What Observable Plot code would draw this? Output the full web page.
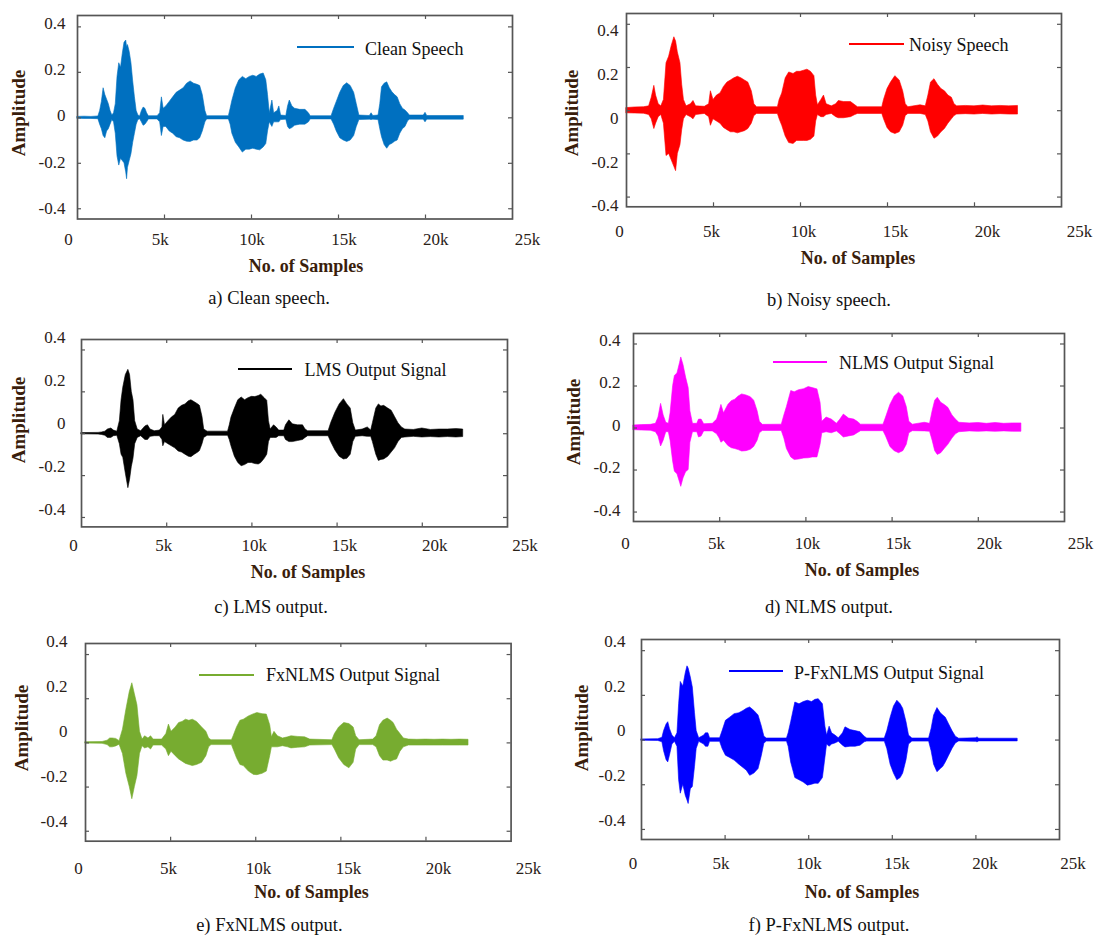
<!DOCTYPE html>
<html><head><meta charset="utf-8">
<script src="https://cdn.jsdelivr.net/npm/d3@7"></script>
<script src="https://cdn.jsdelivr.net/npm/@observablehq/plot@0.6"></script>
<style>
body{margin:0;background:#fff;}
#page{position:relative;width:1094px;height:935px;overflow:hidden;background:#fff;font-family:"Liberation Serif","Times New Roman",serif;}
.t{position:absolute;white-space:nowrap;line-height:1;font-family:"Liberation Serif","Times New Roman",serif;}
.ttl{font-size:18px;font-weight:bold;color:#3a1e0c;}
.amp{font-size:19px;font-weight:bold;color:#3a1e0c;}
.cap{font-size:18.5px;color:#111;}
.leg{font-size:18px;color:#111;}
svg text{font-family:"Liberation Serif","Times New Roman",serif !important;}
</style></head><body><div id="page"></div>
<script>
// x in thousands of samples, envelope [samplesK, upper, lower]
const xTicks=[0,5,10,15,20,25];
const yTicks=[-0.4,-0.2,0,0.2,0.4];

const cleanSpeech=[[0,.004,-.004],[0.4,.005,-.005],[0.8,.004,-.005],[1.2,.006,-.006],[1.3,.03,-.03],[1.4,.07,-.05],[1.5,.13,-.08],[1.6,.10,-.09],[1.7,.08,-.06],[1.8,.06,-.05],[1.9,.03,-.03],[2.0,.01,-.01],[2.1,.02,-.02],[2.2,.06,-.07],[2.3,.18,-.17],[2.4,.24,-.21],[2.5,.22,-.18],[2.6,.28,-.19],[2.7,.33,-.20],[2.8,.34,-.24],[2.85,.31,-.27],[2.9,.32,-.22],[3.0,.29,-.19],[3.1,.24,-.16],[3.2,.16,-.11],[3.3,.09,-.07],[3.4,.03,-.03],[3.5,.01,-.01],[3.6,.006,-.006],[3.7,.03,-.02],[3.8,.045,-.035],[3.9,.04,-.03],[4.0,.02,-.02],[4.1,.007,-.007],[4.6,.007,-.007],[4.75,.02,-.02],[4.85,.09,-.08],[4.95,.04,-.04],[5.1,.05,-.04],[5.3,.07,-.06],[5.5,.09,-.07],[5.7,.11,-.085],[5.9,.12,-.09],[6.1,.13,-.10],[6.3,.15,-.105],[6.5,.16,-.106],[6.7,.15,-.10],[6.9,.145,-.10],[7.05,.14,-.09],[7.2,.10,-.06],[7.35,.03,-.02],[7.45,.007,-.007],[8.7,.007,-.007],[8.8,.04,-.03],[8.9,.075,-.07],[9.1,.13,-.11],[9.3,.165,-.13],[9.5,.18,-.153],[9.7,.17,-.14],[9.9,.18,-.14],[10.1,.185,-.136],[10.3,.18,-.14],[10.5,.19,-.143],[10.7,.195,-.13],[10.85,.165,-.115],[10.95,.10,-.06],[11.05,.02,-.02],[11.2,.076,-.04],[11.3,.02,-.02],[11.5,.03,-.02],[11.6,.05,-.02],[11.7,.01,-.01],[12.0,.008,-.008],[12.1,.05,-.04],[12.2,.076,-.05],[12.35,.05,-.045],[12.5,.04,-.035],[12.8,.035,-.03],[13.1,.035,-.03],[13.3,.02,-.02],[13.4,.007,-.007],[14.6,.007,-.007],[14.75,.04,-.03],[14.9,.07,-.06],[15.1,.11,-.09],[15.3,.14,-.10],[15.5,.152,-.106],[15.7,.14,-.10],[15.9,.11,-.08],[16.05,.06,-.04],[16.2,.01,-.01],[16.8,.008,-.008],[16.9,.02,-.01],[17.0,.008,-.008],[17.3,.01,-.01],[17.4,.06,-.05],[17.5,.134,-.085],[17.65,.15,-.12],[17.8,.156,-.136],[17.95,.13,-.12],[18.1,.112,-.114],[18.25,.10,-.105],[18.4,.09,-.10],[18.55,.06,-.07],[18.7,.04,-.05],[18.85,.032,-.04],[19.0,.02,-.015],[19.1,.01,-.008],[19.9,.01,-.008],[20.0,.022,-.02],[20.1,.008,-.008],[22.2,.008,-.008]];

const noisySpeech=[[0,.012,-.012],[0.5,.015,-.013],[1.0,.016,-.014],[1.3,.02,-.02],[1.45,.06,-.04],[1.6,.115,-.085],[1.7,.07,-.06],[1.85,.03,-.03],[2.0,.02,-.02],[2.15,.05,-.06],[2.3,.22,-.21],[2.45,.25,-.20],[2.6,.30,-.23],[2.75,.34,-.26],[2.85,.32,-.28],[2.95,.27,-.20],[3.1,.22,-.16],[3.2,.12,-.09],[3.3,.05,-.04],[3.45,.02,-.02],[3.7,.03,-.03],[3.85,.045,-.04],[4.0,.02,-.02],[4.5,.018,-.015],[4.75,.03,-.03],[4.85,.09,-.07],[5.0,.05,-.04],[5.2,.07,-.05],[5.4,.08,-.06],[5.6,.11,-.08],[5.8,.13,-.09],[6.0,.14,-.10],[6.2,.15,-.10],[6.4,.157,-.105],[6.6,.15,-.10],[6.8,.14,-.095],[7.0,.13,-.085],[7.2,.09,-.06],[7.35,.03,-.025],[7.5,.016,-.015],[8.7,.016,-.015],[8.8,.05,-.04],[8.95,.08,-.07],[9.15,.15,-.12],[9.35,.177,-.15],[9.6,.17,-.154],[9.8,.18,-.14],[10.0,.18,-.14],[10.2,.185,-.14],[10.4,.19,-.14],[10.6,.18,-.135],[10.8,.16,-.12],[10.9,.07,-.05],[11.0,.025,-.02],[11.2,.05,-.03],[11.35,.07,-.03],[11.5,.03,-.02],[11.8,.02,-.015],[12.05,.03,-.03],[12.2,.045,-.035],[12.5,.04,-.035],[12.9,.04,-.03],[13.15,.025,-.02],[13.3,.016,-.015],[14.7,.016,-.015],[14.8,.05,-.04],[15.0,.10,-.08],[15.2,.13,-.10],[15.45,.16,-.108],[15.7,.14,-.10],[15.9,.09,-.07],[16.05,.03,-.025],[16.2,.016,-.015],[16.9,.025,-.015],[17.2,.02,-.02],[17.35,.07,-.05],[17.5,.13,-.10],[17.7,.146,-.13],[17.9,.12,-.12],[18.1,.10,-.10],[18.3,.09,-.085],[18.5,.07,-.06],[18.7,.06,-.04],[18.85,.03,-.025],[19.0,.02,-.018],[19.5,.022,-.016],[20.0,.02,-.018],[20.5,.024,-.015],[21.0,.02,-.018],[21.5,.022,-.016],[22.0,.02,-.018],[22.5,.022,-.018]];

const lmsOutput=[[0,.003,-.003],[1.0,.004,-.004],[1.2,.006,-.006],[1.4,.01,-.01],[1.55,.02,-.02],[1.75,.025,-.02],[1.9,.015,-.012],[2.1,.01,-.01],[2.25,.06,-.05],[2.35,.16,-.10],[2.45,.22,-.115],[2.6,.28,-.19],[2.75,.305,-.26],[2.85,.28,-.22],[2.95,.20,-.16],[3.05,.16,-.12],[3.15,.06,-.05],[3.3,.02,-.02],[3.5,.012,-.012],[3.75,.035,-.03],[3.9,.04,-.03],[4.05,.02,-.015],[4.3,.012,-.012],[4.6,.015,-.012],[4.75,.03,-.03],[4.8,.09,-.06],[4.9,.04,-.04],[5.1,.06,-.05],[5.3,.077,-.06],[5.5,.09,-.07],[5.7,.12,-.085],[5.9,.133,-.09],[6.1,.14,-.10],[6.3,.155,-.11],[6.45,.16,-.112],[6.65,.15,-.10],[6.85,.14,-.09],[6.95,.133,-.083],[7.1,.08,-.05],[7.2,.02,-.02],[7.4,.01,-.01],[8.6,.01,-.01],[8.7,.04,-.03],[8.8,.077,-.06],[9.0,.12,-.11],[9.2,.16,-.14],[9.4,.173,-.155],[9.6,.16,-.15],[9.8,.17,-.14],[10.0,.176,-.14],[10.2,.175,-.145],[10.4,.18,-.147],[10.55,.186,-.14],[10.75,.17,-.12],[10.9,.157,-.10],[11.0,.06,-.04],[11.1,.02,-.02],[11.3,.04,-.02],[11.45,.03,-.02],[11.6,.015,-.012],[11.9,.015,-.012],[12.0,.04,-.03],[12.2,.064,-.04],[12.4,.045,-.04],[12.7,.04,-.035],[13.0,.04,-.03],[13.15,.02,-.02],[13.3,.012,-.012],[14.5,.012,-.012],[14.65,.05,-.04],[14.9,.10,-.08],[15.15,.14,-.11],[15.4,.165,-.123],[15.6,.14,-.12],[15.8,.12,-.10],[15.95,.05,-.04],[16.1,.015,-.015],[16.5,.02,-.012],[16.8,.03,-.015],[17.0,.015,-.015],[17.1,.05,-.04],[17.3,.12,-.10],[17.45,.14,-.13],[17.6,.13,-.125],[17.76,.133,-.123],[18.0,.12,-.11],[18.2,.11,-.09],[18.4,.08,-.07],[18.6,.05,-.04],[18.8,.03,-.02],[19.0,.02,-.018],[19.5,.018,-.015],[20.0,.025,-.018],[20.5,.018,-.016],[21.0,.02,-.018],[21.5,.02,-.016],[22.0,.022,-.018],[22.4,.02,-.016]];

const nlmsOutput=[[0,.012,-.01],[0.5,.014,-.012],[1.0,.015,-.013],[1.3,.02,-.02],[1.45,.05,-.04],[1.6,.115,-.088],[1.75,.06,-.06],[1.9,.025,-.02],[2.05,.02,-.02],[2.15,.07,-.06],[2.3,.20,-.16],[2.4,.248,-.208],[2.55,.26,-.22],[2.7,.31,-.26],[2.77,.336,-.28],[2.9,.30,-.24],[3.05,.24,-.21],[3.2,.19,-.20],[3.3,.08,-.07],[3.45,.02,-.02],[3.7,.02,-.02],[3.8,.04,-.045],[3.95,.04,-.04],[4.1,.018,-.016],[4.6,.02,-.016],[4.85,.04,-.03],[5.0,.08,-.05],[5.1,.11,-.07],[5.25,.07,-.06],[5.5,.11,-.085],[5.7,.128,-.096],[5.9,.135,-.10],[6.1,.15,-.105],[6.3,.16,-.112],[6.55,.155,-.11],[6.8,.147,-.104],[7.0,.13,-.09],[7.2,.08,-.06],[7.33,.03,-.025],[7.5,.015,-.014],[8.6,.016,-.014],[8.75,.06,-.05],[8.9,.10,-.10],[9.15,.176,-.14],[9.35,.17,-.152],[9.6,.18,-.15],[9.9,.185,-.145],[10.16,.195,-.144],[10.4,.19,-.14],[10.67,.184,-.14],[10.85,.12,-.08],[10.95,.03,-.025],[11.2,.05,-.02],[11.5,.04,-.025],[11.8,.02,-.016],[12.0,.04,-.03],[12.2,.064,-.045],[12.5,.045,-.04],[12.8,.04,-.035],[13.0,.03,-.025],[13.2,.016,-.015],[14.5,.016,-.015],[14.65,.05,-.04],[14.9,.11,-.09],[15.15,.15,-.11],[15.4,.168,-.12],[15.65,.15,-.11],[15.85,.10,-.08],[16.0,.03,-.025],[16.2,.016,-.015],[16.9,.025,-.016],[17.2,.02,-.018],[17.35,.08,-.06],[17.5,.13,-.11],[17.65,.144,-.128],[17.85,.12,-.12],[18.05,.11,-.10],[18.26,.096,-.08],[18.5,.06,-.05],[18.7,.04,-.03],[18.9,.025,-.02],[19.5,.022,-.016],[20.0,.024,-.018],[20.5,.02,-.016],[21.0,.024,-.018],[21.5,.02,-.016],[22.0,.022,-.018],[22.5,.022,-.018]];

const fxnlmsOutput=[[0,.003,-.003],[1.0,.004,-.004],[1.3,.01,-.01],[1.45,.02,-.02],[1.6,.02,-.02],[1.8,.018,-.016],[2.0,.008,-.008],[2.2,.06,-.05],[2.4,.15,-.14],[2.6,.23,-.20],[2.75,.27,-.255],[2.9,.22,-.20],[3.05,.17,-.15],[3.2,.05,-.05],[3.35,.015,-.015],[3.5,.03,-.025],[3.7,.02,-.02],[3.85,.03,-.03],[4.0,.015,-.012],[4.5,.015,-.012],[4.75,.04,-.03],[4.9,.083,-.06],[5.05,.05,-.04],[5.3,.07,-.06],[5.5,.09,-.075],[5.7,.095,-.085],[5.9,.105,-.095],[6.1,.10,-.10],[6.3,.105,-.105],[6.55,.095,-.10],[6.85,.07,-.09],[7.1,.05,-.06],[7.26,.02,-.02],[7.4,.012,-.01],[8.6,.012,-.01],[8.7,.03,-.03],[8.9,.07,-.07],[9.1,.10,-.10],[9.3,.105,-.105],[9.6,.12,-.13],[9.9,.13,-.145],[10.1,.135,-.146],[10.4,.13,-.14],[10.65,.128,-.13],[10.85,.08,-.06],[10.95,.025,-.02],[11.1,.05,-.02],[11.3,.03,-.02],[11.6,.02,-.015],[11.9,.025,-.02],[12.1,.03,-.025],[12.5,.027,-.022],[12.9,.025,-.02],[13.2,.015,-.012],[14.5,.012,-.01],[14.65,.04,-.03],[14.9,.07,-.07],[15.2,.09,-.10],[15.5,.085,-.115],[15.75,.07,-.09],[15.9,.03,-.03],[16.1,.012,-.01],[16.9,.015,-.01],[17.1,.03,-.02],[17.3,.08,-.06],[17.5,.10,-.08],[17.75,.11,-.08],[17.95,.10,-.085],[18.1,.09,-.08],[18.3,.06,-.075],[18.5,.04,-.04],[18.7,.02,-.02],[19.0,.015,-.012],[19.5,.014,-.012],[20.0,.015,-.012],[20.5,.014,-.012],[21.0,.015,-.012],[21.5,.014,-.012],[22.0,.015,-.012],[22.5,.014,-.012]];

const pfxnlmsOutput=[[0,.003,-.003],[1.0,.004,-.004],[1.25,.01,-.01],[1.35,.04,-.05],[1.5,.07,-.09],[1.6,.08,-.10],[1.7,.05,-.07],[1.85,.02,-.02],[2.0,.008,-.008],[2.15,.03,-.03],[2.25,.16,-.18],[2.35,.26,-.24],[2.5,.24,-.20],[2.65,.30,-.25],[2.75,.33,-.27],[2.82,.32,-.286],[2.95,.28,-.22],[3.07,.235,-.21],[3.2,.12,-.12],[3.3,.04,-.04],[3.45,.008,-.008],[3.75,.02,-.02],[3.85,.03,-.03],[4.0,.03,-.03],[4.1,.008,-.008],[4.7,.008,-.008],[4.85,.04,-.04],[5.05,.086,-.07],[5.3,.10,-.08],[5.57,.116,-.092],[5.85,.12,-.11],[6.1,.13,-.125],[6.3,.14,-.137],[6.5,.146,-.16],[6.75,.13,-.15],[7.0,.11,-.13],[7.2,.06,-.07],[7.35,.015,-.015],[7.5,.007,-.007],[8.7,.007,-.007],[8.8,.03,-.03],[8.95,.08,-.10],[9.2,.168,-.17],[9.45,.16,-.18],[9.7,.17,-.19],[9.95,.176,-.204],[10.2,.17,-.20],[10.4,.18,-.195],[10.6,.183,-.196],[10.85,.16,-.17],[11.0,.06,-.08],[11.1,.02,-.02],[11.25,.06,-.03],[11.4,.03,-.02],[11.6,.02,-.015],[11.8,.008,-.008],[12.05,.03,-.025],[12.2,.057,-.033],[12.5,.045,-.03],[12.8,.04,-.03],[13.1,.035,-.025],[13.35,.015,-.01],[13.5,.007,-.007],[14.55,.007,-.007],[14.7,.04,-.04],[14.9,.10,-.11],[15.1,.15,-.15],[15.3,.176,-.18],[15.5,.16,-.17],[15.65,.14,-.15],[15.85,.08,-.09],[16.0,.02,-.02],[16.2,.007,-.007],[17.2,.007,-.007],[17.35,.05,-.05],[17.5,.11,-.11],[17.7,.143,-.144],[17.9,.12,-.13],[18.05,.11,-.12],[18.2,.10,-.10],[18.4,.07,-.07],[18.6,.04,-.04],[18.8,.015,-.015],[19.0,.006,-.006],[20.0,.008,-.008],[20.1,.012,-.01],[20.2,.006,-.006],[22.5,.006,-.006]];

const panels=[
 {data:cleanSpeech,color:"#0070c0",legend:"Clean Speech",caption:"a) Clean speech.",
  frame:{L:77,R:512,T:14.5,B:218},xLab:{x0:68,x25:527,y:238.5},yLab:{right:65,top:23,bottom:208},
  amp:{x:18,y:113},xTitle:{x:306,y:266},cap:{x:269,y:298},leg:{x1:297,x2:354,y:47,tx:365,ty:49}},
 {data:noisySpeech,color:"#ff0000",legend:"Noisy Speech",caption:"b) Noisy speech.",
  frame:{L:626,R:1061,T:12.7,B:206},xLab:{x0:619,x25:1079,y:230.5},yLab:{right:618,top:30.5,bottom:205.5},
  amp:{x:571,y:113},xTitle:{x:858,y:258},cap:{x:829,y:300},leg:{x1:849,x2:904,y:43.5,tx:909,ty:44.5}},
 {data:lmsOutput,color:"#000000",legend:"LMS Output Signal",caption:"c) LMS output.",
  frame:{L:81,R:507,T:339.3,B:526.7},xLab:{x0:73,x25:524.6,y:545},yLab:{right:65,top:337.4,bottom:508.6},
  amp:{x:18,y:420},xTitle:{x:308,y:571.5},cap:{x:271,y:606.5},leg:{x1:238,x2:292,y:369.3,tx:304.5,ty:370}},
 {data:nlmsOutput,color:"#ff00ff",legend:"NLMS Output Signal",caption:"d) NLMS output.",
  frame:{L:633,R:1064,T:332.7,B:520.7},xLab:{x0:625,x25:1080,y:543},yLab:{right:620,top:339.6,bottom:510},
  amp:{x:573,y:422},xTitle:{x:862,y:570},cap:{x:829,y:607},leg:{x1:773,x2:827,y:361.7,tx:839,ty:363.3}},
 {data:fxnlmsOutput,color:"#77ac30",legend:"FxNLMS Output Signal",caption:"e) FxNLMS output.",
  frame:{L:85,R:510.6,T:643.3,B:841},xLab:{x0:78,x25:528,y:868},yLab:{right:66.7,top:641.3,bottom:821.5},
  amp:{x:21,y:728},xTitle:{x:311.6,y:891.7},cap:{x:269.4,y:925},leg:{x1:199,x2:253.5,y:675,tx:266,ty:675}},
 {data:pfxnlmsOutput,color:"#0000ff",legend:"P-FxNLMS Output Signal",caption:"f) P-FxNLMS output.",
  frame:{L:641,R:1059,T:639.3,B:839.3},xLab:{x0:632.6,x25:1072.6,y:863},yLab:{right:625,top:640.6,bottom:820.4},
  amp:{x:580.7,y:727.5},xTitle:{x:862,y:891.7},cap:{x:829,y:925},leg:{x1:729.4,x2:783.4,y:670.7,tx:794,ty:673.3}}
];

const page=document.getElementById("page");
const frameColor="#555555";
const tickColor="#2a2118";
const serif="Liberation Serif";
const fmtX=d=>d===0?"0":d+"k";
const fmtY=d=>d===0?"0":d.toFixed(1);
const yDomain=[-0.445,0.45];

function place(el,left,top){el.style.position="absolute";el.style.left=left+"px";el.style.top=top+"px";el.style.maxWidth="none";page.appendChild(el);}
function addText(cls,txt,x,y,tf){const d=document.createElement("div");d.className="t "+cls;d.textContent=txt;d.style.left=x+"px";d.style.top=y+"px";d.style.transform=tf;page.appendChild(d);return d;}

for(const p of panels){
  const {L,R,T,B}=p.frame, W=R-L, H=B-T, pad=4;
  const main=Plot.plot({
    width:W+2*pad,height:H+2*pad,margin:pad,
    x:{domain:[0,25],axis:null},y:{domain:yDomain,axis:null},
    style:{background:"transparent",overflow:"visible"},
    marks:[
      Plot.areaY(p.data,{x:d=>d[0],y1:d=>d[2],y2:d=>d[1],fill:p.color,stroke:p.color,strokeWidth:0.6,curve:"linear"}),
      Plot.ruleX(xTicks.slice(1,-1),{x:d=>d,insetTop:H-4,stroke:frameColor,strokeWidth:1.2}),
      Plot.ruleX(xTicks.slice(1,-1),{x:d=>d,insetBottom:H-4,stroke:frameColor,strokeWidth:1.2}),
      Plot.ruleY(yTicks,{y:d=>d,insetRight:W-4,stroke:frameColor,strokeWidth:1.2}),
      Plot.ruleY(yTicks,{y:d=>d,insetLeft:W-4,stroke:frameColor,strokeWidth:1.2}),
      Plot.frame({stroke:frameColor,strokeWidth:1.7})
    ]
  });
  place(main,L-pad,T-pad);

  const xl=Plot.plot({
    width:1094,height:30,marginLeft:p.xLab.x0,marginRight:1094-p.xLab.x25,marginTop:0,marginBottom:0,
    x:{domain:[0,25],axis:null},
    style:{background:"transparent",overflow:"visible"},
    marks:[Plot.text(xTicks,{x:d=>d,text:fmtX,frameAnchor:"middle",fontSize:17,fontFamily:serif,fill:tickColor})]
  });
  place(xl,0,p.xLab.y-15);

  const yl=Plot.plot({
    width:60,height:935,marginLeft:0,marginRight:0,marginTop:p.yLab.top,marginBottom:935-p.yLab.bottom,
    y:{domain:[-0.4,0.4],axis:null},
    style:{background:"transparent",overflow:"visible"},
    marks:[Plot.text(yTicks,{y:d=>d,text:fmtY,frameAnchor:"right",textAnchor:"end",fontSize:17,fontFamily:serif,fill:tickColor})]
  });
  place(yl,p.yLab.right-60,0);

  addText("amp","Amplitude",p.amp.x,p.amp.y,"translate(-50%,-50%) rotate(-90deg)");
  addText("ttl","No. of Samples",p.xTitle.x,p.xTitle.y,"translate(-50%,-50%)");
  addText("cap",p.caption,p.cap.x,p.cap.y,"translate(-50%,-50%)");
  const ln=document.createElement("div");
  Object.assign(ln.style,{position:"absolute",left:p.leg.x1+"px",top:(p.leg.y-1)+"px",width:(p.leg.x2-p.leg.x1)+"px",height:"2px",background:p.color});
  page.appendChild(ln);
  addText("leg",p.legend,p.leg.tx,p.leg.ty,"translate(0,-50%)");
}
</script></body></html>
